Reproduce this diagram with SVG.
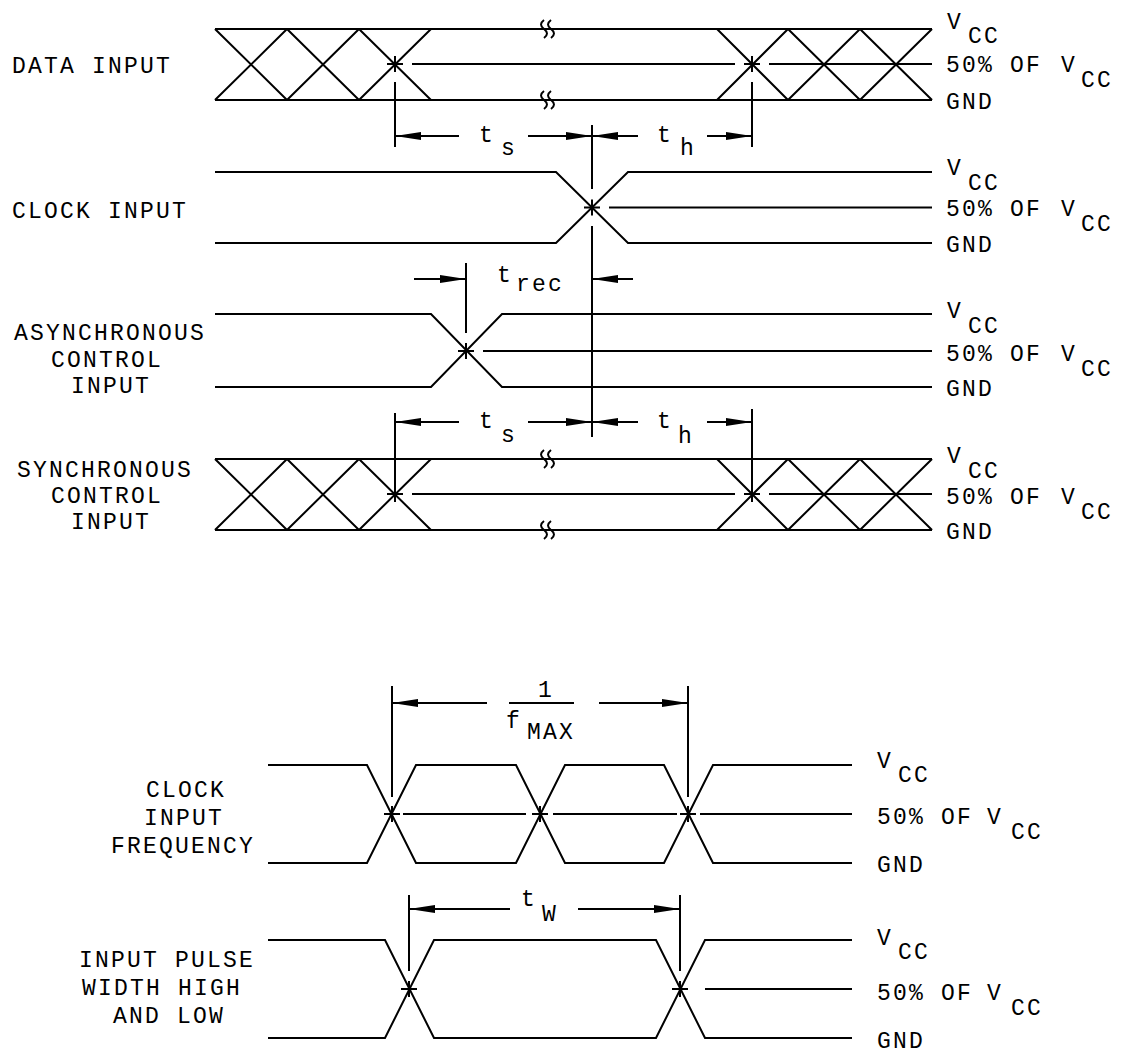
<svg xmlns="http://www.w3.org/2000/svg" width="1122" height="1054" viewBox="0 0 1122 1054">
<style>
  .w { stroke: #000; stroke-width: 2; fill: none; }
  .t { font-family: "Liberation Mono", "DejaVu Sans Mono", monospace; font-size: 23px; letter-spacing: 2.2px; fill: #000; }
  .dim { stroke: #000; stroke-width: 2; fill: none; }
  .arr { stroke: #000; stroke-width: 2; fill: none; marker-end: url(#ah); }
</style>
<defs>
  <marker id="ah" markerUnits="userSpaceOnUse" markerWidth="28" markerHeight="10" refX="26" refY="5" orient="auto">
    <path d="M0,1 L26,5 L0,9 Z" fill="#000"/>
  </marker>
</defs>
<rect width="1122" height="1054" fill="#fff"/>

<!-- DATA INPUT -->
<g id="data-input">
  <text class="t" x="12" y="73">DATA INPUT</text>
  <path class="w" d="M215,29 H932 M215,100 H932"/>
  <path class="w" d="M215,29 L287,100 M215,100 L287,29 M287,29 L359,100 M287,100 L359,29 M359,29 L431,100 M359,100 L431,29"/>
  <path class="w" d="M717,29 L788,100 M717,100 L788,29 M788,29 L860,100 M788,100 L860,29 M860,29 L932,100 M860,100 L932,29"/>
  <path class="w" d="M387,64 H403 M395,56 V72 M744,64 H760 M752,56 V72"/>
  <path class="w" d="M412,64 H735 M769,64 H932"/>
  <path class="w" d="M544,20 c-4,3 -4,6 0,9 c4,3 4,6 0,9 M551,20 c-4,3 -4,6 0,9 c4,3 4,6 0,9"/>
  <path class="w" d="M544,91 c-4,3 -4,6 0,9 c4,3 4,6 0,9 M551,91 c-4,3 -4,6 0,9 c4,3 4,6 0,9"/>
  <text class="t" x="947" y="29">V</text>
  <text class="t" x="968" y="43">CC</text>
  <text class="t" x="946" y="72">50% OF</text>
  <text class="t" x="1061" y="72">V</text>
  <text class="t" x="1081" y="87">CC</text>
  <text class="t" x="946" y="109">GND</text>
</g>

<!-- CLOCK INPUT -->
<g id="clock-input">
  <text class="t" x="12" y="218">CLOCK INPUT</text>
  <path class="w" d="M215,172 H556 L628,243 H932 M215,243 H556 L628,172 H932"/>
  <path class="w" d="M584,207.5 H600 M592,199.5 V215.5"/>
  <path class="w" d="M609,207.5 H932"/>
  <text class="t" x="947" y="175">V</text>
  <text class="t" x="968" y="190">CC</text>
  <text class="t" x="946" y="216">50% OF</text>
  <text class="t" x="1061" y="216">V</text>
  <text class="t" x="1081" y="231">CC</text>
  <text class="t" x="946" y="252">GND</text>
</g>

<!-- ASYNCHRONOUS CONTROL INPUT -->
<g id="async-input">
  <text class="t" x="14" y="340">ASYNCHRONOUS</text>
  <text class="t" x="51" y="367">CONTROL</text>
  <text class="t" x="71" y="393">INPUT</text>
  <path class="w" d="M215,314 H431 L502,387 H932 M215,387 H431 L502,314 H932"/>
  <path class="w" d="M458,351 H474 M466,343 V359"/>
  <path class="w" d="M483,351 H932"/>
  <text class="t" x="947" y="318">V</text>
  <text class="t" x="968" y="333">CC</text>
  <text class="t" x="946" y="361">50% OF</text>
  <text class="t" x="1061" y="361">V</text>
  <text class="t" x="1081" y="376">CC</text>
  <text class="t" x="946" y="396">GND</text>
</g>

<!-- SYNCHRONOUS CONTROL INPUT -->
<g id="sync-input">
  <text class="t" x="17" y="477">SYNCHRONOUS</text>
  <text class="t" x="51" y="503">CONTROL</text>
  <text class="t" x="71" y="529">INPUT</text>
  <path class="w" d="M215,459 H932 M215,530 H932"/>
  <path class="w" d="M215,459 L287,530 M215,530 L287,459 M287,459 L359,530 M287,530 L359,459 M359,459 L431,530 M359,530 L431,459"/>
  <path class="w" d="M717,459 L788,530 M717,530 L788,459 M788,459 L860,530 M788,530 L860,459 M860,459 L932,530 M860,530 L932,459"/>
  <path class="w" d="M387,494 H403 M395,486 V502 M744,494 H760 M752,486 V502"/>
  <path class="w" d="M412,494 H735 M769,494 H932"/>
  <path class="w" d="M544,450 c-4,3 -4,6 0,9 c4,3 4,6 0,9 M551,450 c-4,3 -4,6 0,9 c4,3 4,6 0,9"/>
  <path class="w" d="M544,521 c-4,3 -4,6 0,9 c4,3 4,6 0,9 M551,521 c-4,3 -4,6 0,9 c4,3 4,6 0,9"/>
  <text class="t" x="947" y="463">V</text>
  <text class="t" x="968" y="478">CC</text>
  <text class="t" x="946" y="504">50% OF</text>
  <text class="t" x="1061" y="504">V</text>
  <text class="t" x="1081" y="519">CC</text>
  <text class="t" x="946" y="539">GND</text>
</g>

<!-- CLOCK INPUT FREQUENCY -->
<g id="clock-frequency">
  <text class="t" x="146" y="797">CLOCK</text>
  <text class="t" x="144" y="825">INPUT</text>
  <text class="t" x="111" y="853">FREQUENCY</text>
  <path class="w" d="M268,765 H367 L416,863 H516 L565,765 H664 L713,863 H852 M268,863 H367 L416,765 H516 L565,863 H664 L713,765 H852"/>
  <path class="w" d="M384,814 H400 M392,806 V822 M532,814 H548 M540,806 V822 M680,814 H696 M688,806 V822"/>
  <path class="w" d="M403,814 H526 M553,814 H677 M700,814 H852"/>
  <text class="t" x="877" y="768">V</text>
  <text class="t" x="898" y="782">CC</text>
  <text class="t" x="877" y="824">50% OF</text>
  <text class="t" x="987" y="824">V</text>
  <text class="t" x="1011" y="839">CC</text>
  <text class="t" x="877" y="872">GND</text>
</g>

<!-- INPUT PULSE WIDTH -->
<g id="pulse-width">
  <text class="t" x="79" y="967">INPUT PULSE</text>
  <text class="t" x="82" y="995">WIDTH HIGH</text>
  <text class="t" x="113" y="1023">AND LOW</text>
  <path class="w" d="M268,940 H385 L434,1038 H656 L705,940 H852 M268,1038 H385 L434,940 H656 L705,1038 H852"/>
  <path class="w" d="M401,989 H417 M409,981 V997 M672,989 H688 M680,981 V997"/>
  <path class="w" d="M705,989 H852"/>
  <text class="t" x="877" y="945">V</text>
  <text class="t" x="898" y="959">CC</text>
  <text class="t" x="877" y="1000">50% OF</text>
  <text class="t" x="987" y="1000">V</text>
  <text class="t" x="1011" y="1015">CC</text>
  <text class="t" x="877" y="1048">GND</text>
</g>

<!-- Dimensions / connectors -->
<g id="connectors">
  <path class="dim" d="M395,82 V147 M752,82 V147"/>
  <path class="dim" d="M592,125 V189 M592,226 V437"/>
  <path class="dim" d="M466,263 V333"/>
  <path class="dim" d="M395,413 V486 M752,409 V486"/>
  <path class="dim" d="M392,686 V797 M688,686 V797"/>
  <path class="dim" d="M409,895 V971 M680,895 V971"/>

  <line class="arr" x1="459" y1="136" x2="395" y2="136"/>
  <line class="arr" x1="528" y1="136" x2="592" y2="136"/>
  <line class="arr" x1="638" y1="136" x2="592" y2="136"/>
  <line class="arr" x1="707" y1="136" x2="752" y2="136"/>
  <text class="t" x="479" y="142">t</text>
  <text class="t" x="501" y="155">s</text>
  <text class="t" x="657" y="142">t</text>
  <text class="t" x="680" y="155">h</text>

  <line class="arr" x1="414" y1="279" x2="466" y2="279"/>
  <line class="arr" x1="633" y1="279" x2="592" y2="279"/>
  <text class="t" x="497" y="282">t</text>
  <text class="t" x="516" y="291">rec</text>

  <line class="arr" x1="459" y1="422" x2="395" y2="422"/>
  <line class="arr" x1="528" y1="422" x2="592" y2="422"/>
  <line class="arr" x1="638" y1="422" x2="592" y2="422"/>
  <line class="arr" x1="707" y1="422" x2="752" y2="422"/>
  <text class="t" x="479" y="428">t</text>
  <text class="t" x="501" y="442">s</text>
  <text class="t" x="657" y="428">t</text>
  <text class="t" x="678" y="443">h</text>

  <line class="arr" x1="487" y1="703" x2="392" y2="703"/>
  <line class="arr" x1="599" y1="703" x2="688" y2="703"/>
  <path class="dim" d="M509,703 H574"/>
  <text class="t" x="538" y="697">1</text>
  <text class="t" x="506" y="728">f</text>
  <text class="t" x="527" y="739">MAX</text>

  <line class="arr" x1="510" y1="909" x2="409" y2="909"/>
  <line class="arr" x1="578" y1="909" x2="680" y2="909"/>
  <text class="t" x="521" y="906">t</text>
  <text class="t" x="542" y="921">W</text>
</g>
</svg>
